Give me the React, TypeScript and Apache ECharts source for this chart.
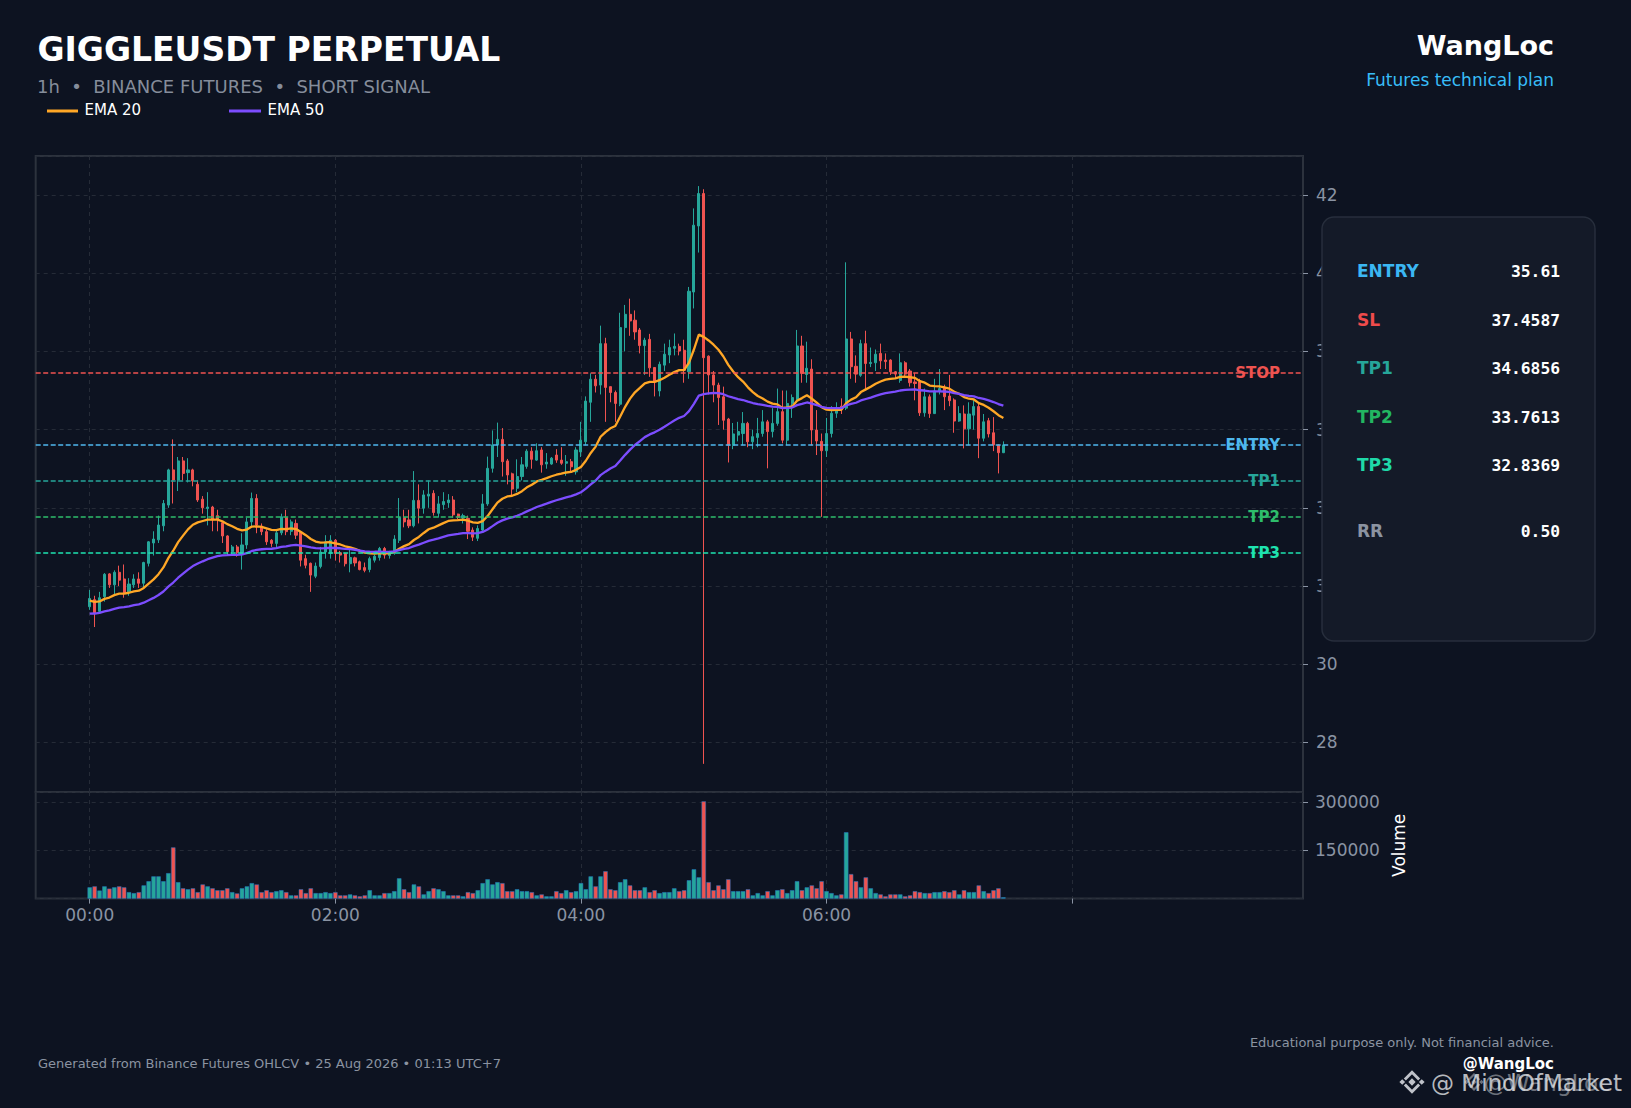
import React, { useEffect, useRef } from "react";
import * as echarts from "echarts";

// ---------- data ----------
const opens = [
  31.47, 31.65, 31.35, 31.73, 32.31, 32.03, 32.35, 32.18, 31.85, 32.03,
  32.18, 32.07, 32.58, 33.10, 33.18, 33.54, 34.07, 34.97, 34.71, 35.20,
  34.90, 34.97, 34.60, 34.22, 33.98, 34.02, 33.80, 33.62, 33.28, 32.88,
  33.00, 32.80, 33.05, 33.64, 34.24, 33.53, 33.39, 33.17, 33.09, 33.36,
  33.75, 33.40, 33.60, 33.38, 32.70, 32.58, 32.25, 32.50, 32.87, 32.83,
  33.17, 32.85, 32.83, 32.57, 32.72, 32.62, 32.47, 32.42, 32.66, 32.73,
  32.96, 32.78, 32.83, 33.17, 33.75, 33.69, 33.54, 34.19, 33.99, 34.30,
  34.37, 33.86, 34.08, 34.13, 34.20, 33.84, 33.74, 33.73, 33.43, 33.22,
  33.43, 34.10, 35.01, 35.61, 35.75, 35.20, 34.87, 34.50, 34.80, 35.06,
  35.45, 35.22, 35.48, 35.12, 35.12, 35.35, 35.22, 35.14, 35.18, 34.92,
  35.43, 35.69, 36.70, 37.29, 37.14, 38.20, 37.10, 36.95, 36.65, 38.61,
  38.95, 38.80, 38.55, 38.15, 38.31, 37.59, 36.99, 37.65, 37.91, 38.08,
  38.13, 38.03, 37.48, 39.52, 41.21, 42.04, 37.88, 37.40, 37.14, 36.84,
  36.27, 35.60, 35.86, 35.90, 36.16, 35.69, 35.80, 35.90, 36.20, 35.95,
  36.16, 36.46, 35.73, 36.67, 36.78, 38.14, 37.41, 37.55, 35.99, 35.70,
  35.46, 35.90, 36.42, 36.60, 36.55, 38.32, 37.62, 37.39, 38.20, 37.69,
  37.71, 37.95, 37.78, 37.78, 37.48, 37.26, 37.71, 37.50, 37.22, 37.22,
  36.43, 36.84, 36.41, 36.99, 37.07, 36.86, 36.76, 36.22, 36.40, 36.02,
  36.37, 36.59, 35.78, 36.23, 35.92, 35.61, 35.41,
];
const closes = [
  31.68, 31.30, 31.70, 32.30, 32.03, 32.35, 32.15, 31.81, 32.05, 32.18,
  32.07, 32.60, 33.13, 33.20, 33.56, 34.11, 34.97, 34.71, 35.20, 34.88,
  34.97, 34.69, 34.20, 34.00, 34.02, 33.69, 33.70, 33.28, 32.88, 33.00,
  32.85, 33.05, 33.64, 34.24, 33.56, 33.39, 33.13, 33.09, 33.36, 33.77,
  33.39, 33.64, 33.30, 32.66, 32.53, 32.28, 32.51, 32.87, 33.13, 33.17,
  32.83, 32.79, 32.57, 32.73, 32.59, 32.42, 32.40, 32.70, 32.76, 32.96,
  32.79, 32.83, 33.20, 33.75, 33.64, 33.54, 34.19, 33.99, 34.33, 34.35,
  33.88, 34.10, 34.16, 34.20, 33.82, 33.76, 33.80, 33.40, 33.25, 33.47,
  34.10, 35.01, 35.61, 35.75, 35.18, 34.84, 34.48, 34.80, 35.10, 35.45,
  35.24, 35.46, 35.10, 35.17, 35.27, 35.22, 35.14, 35.18, 35.05, 35.48,
  35.73, 36.73, 37.29, 37.12, 38.20, 37.08, 36.95, 36.67, 38.61, 38.95,
  38.78, 38.50, 38.15, 38.29, 37.58, 37.22, 37.67, 37.93, 38.10, 38.13,
  38.01, 37.52, 39.54, 41.23, 42.04, 37.84, 37.40, 37.14, 36.82, 36.24,
  35.60, 35.89, 35.95, 36.16, 35.69, 35.82, 35.90, 36.20, 35.95, 36.16,
  36.46, 35.73, 36.67, 36.82, 38.14, 37.44, 37.57, 35.99, 35.71, 35.46,
  35.90, 36.42, 36.54, 36.52, 38.32, 37.61, 37.42, 38.20, 37.69, 37.72,
  37.93, 37.76, 37.74, 37.48, 37.42, 37.71, 37.42, 37.20, 37.18, 36.43,
  36.84, 36.41, 36.99, 37.05, 36.84, 36.74, 36.22, 36.41, 36.02, 36.40,
  36.59, 35.78, 36.20, 35.89, 35.61, 35.41, 35.61,
];
const lows = [
  31.39, 30.95, 31.30, 31.60, 31.95, 31.77, 32.00, 31.70, 31.75, 31.95,
  31.95, 31.95, 32.50, 32.78, 33.10, 33.40, 34.00, 34.11, 34.43, 34.70,
  34.65, 34.55, 34.15, 33.85, 33.55, 33.40, 33.40, 33.10, 32.78, 32.80,
  32.75, 32.42, 32.95, 33.50, 33.35, 33.30, 33.05, 33.00, 32.95, 33.30,
  33.30, 33.30, 33.20, 32.50, 32.45, 31.85, 32.20, 32.45, 32.70, 32.70,
  32.65, 32.60, 32.50, 32.35, 32.50, 32.40, 32.35, 32.35, 32.60, 32.65,
  32.70, 32.70, 32.80, 33.10, 33.50, 33.48, 33.50, 33.60, 33.85, 34.00,
  33.80, 33.75, 33.95, 34.00, 33.75, 33.70, 33.60, 33.20, 33.15, 33.15,
  33.40, 34.05, 34.90, 35.30, 34.80, 34.60, 34.30, 34.40, 34.70, 35.00,
  35.00, 35.20, 34.90, 35.00, 35.10, 35.15, 35.10, 34.82, 34.90, 34.85,
  35.30, 35.60, 36.20, 36.95, 36.90, 36.20, 36.70, 36.20, 36.60, 38.00,
  38.40, 38.30, 37.95, 37.40, 37.35, 36.85, 36.85, 37.50, 37.70, 37.90,
  37.90, 37.20, 37.30, 39.10, 40.53, 27.45, 36.90, 36.70, 36.12, 36.00,
  35.16, 35.50, 35.70, 35.60, 35.55, 35.50, 35.55, 35.82, 35.01, 35.80,
  36.10, 35.65, 35.60, 36.30, 36.70, 37.20, 37.20, 35.60, 35.35, 33.77,
  35.30, 35.80, 36.30, 36.40, 36.50, 37.30, 37.20, 37.35, 37.00, 37.60,
  37.50, 37.55, 37.55, 37.40, 37.30, 37.20, 37.35, 37.10, 36.75, 36.35,
  36.33, 36.30, 36.40, 36.90, 36.50, 36.60, 35.92, 36.20, 35.52, 35.60,
  36.00, 35.27, 35.70, 35.80, 35.45, 34.88, 35.40,
];
const highs = [
  31.90, 31.75, 31.85, 32.33, 32.33, 32.40, 32.52, 32.55, 32.20, 32.30,
  32.35, 32.62, 33.15, 33.40, 33.80, 34.20, 35.00, 35.75, 35.30, 35.30,
  35.27, 35.00, 34.70, 34.30, 34.40, 34.05, 33.95, 33.65, 33.30, 33.05,
  33.05, 33.35, 33.75, 34.39, 34.35, 33.60, 33.45, 33.20, 33.45, 33.85,
  33.95, 33.70, 33.70, 33.40, 32.80, 32.60, 32.60, 33.00, 33.30, 33.30,
  33.20, 32.90, 32.85, 32.95, 32.75, 32.65, 32.60, 32.75, 32.80, 33.00,
  33.00, 32.90, 33.30, 34.25, 33.95, 33.95, 34.94, 34.60, 34.45, 34.70,
  34.45, 34.30, 34.40, 34.35, 34.30, 33.85, 33.85, 33.80, 33.50, 33.55,
  34.35, 35.31, 35.98, 36.18, 36.04, 35.25, 34.90, 35.24, 35.30, 35.50,
  35.55, 35.65, 35.55, 35.40, 35.30, 35.50, 35.55, 35.35, 35.25, 35.55,
  36.20, 36.85, 37.44, 37.40, 38.66, 38.35, 37.10, 37.00, 38.99, 39.19,
  39.35, 39.05, 38.60, 38.35, 38.45, 37.60, 37.74, 38.20, 38.30, 38.46,
  38.20, 38.30, 39.65, 41.66, 42.23, 42.15, 37.90, 37.50, 37.20, 37.10,
  36.30, 36.17, 36.20, 36.45, 36.20, 36.00, 36.30, 36.50, 36.25, 36.55,
  37.05, 37.00, 37.00, 36.90, 38.55, 38.40, 38.25, 37.80, 36.50, 35.90,
  36.30, 36.60, 36.70, 36.80, 40.28, 38.50, 37.90, 38.30, 38.53, 38.10,
  38.05, 38.20, 37.95, 37.80, 37.50, 37.95, 37.75, 37.55, 37.45, 37.30,
  37.05, 36.90, 37.30, 37.55, 37.15, 37.40, 36.80, 36.60, 36.62, 36.70,
  36.75, 36.70, 36.40, 36.30, 36.32, 35.62, 35.70,
];
const volumes = [
  35000, 38000, 25000, 38000, 31000, 35000, 38000, 35000, 20000, 17000,
  20000, 41000, 54000, 69000, 69000, 54000, 79000, 159000, 51000, 32000,
  29000, 32000, 20000, 44000, 38000, 32000, 26000, 26000, 32000, 20000,
  16000, 32000, 38000, 48000, 44000, 20000, 26000, 20000, 23000, 26000,
  20000, 10000, 10000, 29000, 17000, 32000, 17000, 17000, 20000, 17000,
  20000, 10000, 10000, 13000, 10000, 7000, 10000, 26000, 10000, 10000,
  17000, 17000, 23000, 63000, 29000, 20000, 44000, 38000, 13000, 23000,
  32000, 29000, 23000, 10000, 10000, 10000, 7000, 20000, 17000, 26000,
  48000, 60000, 44000, 51000, 48000, 23000, 23000, 29000, 23000, 23000,
  20000, 10000, 13000, 7000, 7000, 23000, 17000, 26000, 20000, 23000,
  48000, 29000, 69000, 38000, 69000, 85000, 29000, 26000, 51000, 60000,
  41000, 26000, 26000, 35000, 20000, 26000, 17000, 20000, 20000, 32000,
  23000, 26000, 57000, 91000, 66000, 302000, 51000, 26000, 41000, 29000,
  60000, 23000, 23000, 23000, 29000, 10000, 17000, 10000, 23000, 10000,
  26000, 29000, 17000, 26000, 54000, 26000, 35000, 41000, 32000, 54000,
  23000, 17000, 10000, 13000, 206000, 76000, 54000, 35000, 66000, 32000,
  17000, 13000, 7000, 13000, 13000, 13000, 7000, 10000, 23000, 20000,
  17000, 17000, 20000, 20000, 23000, 20000, 26000, 13000, 26000, 20000,
  20000, 41000, 23000, 17000, 26000, 32000, 4000,
];

const timeLabels = ["00:00", "02:00", "04:00", "06:00", ""];
const candlesPerLabel = 50;
const padBefore = 11;
const slotCount = 259;

const emaPeriods = [20, 50];
const emaSeeds = [31.62, 31.28];
const emaNames = ["EMA 20", "EMA 50"];
const emaColors = ["#ffa726", "#7c4dff"];

const levelNames = ["STOP", "ENTRY", "TP1", "TP2", "TP3"];
const levelValues = [37.4587, 35.61, 34.6856, 33.7613, 32.8369];
const levelColors = ["#ef5350", "#4fb8ee", "#26a69a", "#2ebd6b", "#1ee3b0"];

const panelLabels = ["ENTRY", "SL", "TP1", "TP2", "TP3", "RR"];
const panelValues = ["35.61", "37.4587", "34.6856", "33.7613", "32.8369", "0.50"];
const panelColors = ["#3bb7f3", "#ef4b4b", "#26a69a", "#22b661", "#1fd9a8", "#8b93a1"];

// ---------- styling ----------
const FONT = '"DejaVu Sans", "Noto Sans", sans-serif';
const MONO = '"DejaVu Sans Mono", monospace';
const BG = "#0d1321";
const UP = "#26a69a";
const DOWN = "#ef5350";
const GRIDC = "#252b37";
const FRAME = "#2c323d";
const AXT = "#8a93a3";
const VOL_EDGE = "#2479c7";

function ema(values: number[], period: number, seed: number) {
  const a = 2 / (period + 1);
  let prev = seed;
  return values.map((v) => (prev = a * v + (1 - a) * prev));
}

const slots = Array.from({ length: slotCount }, (_, k) => String(k));
const isTick = (index: number) => {
  const i = index - padBefore;
  return i >= 0 && i % candlesPerLabel === 0 && i / candlesPerLabel < timeLabels.length;
};
const labelFor = (index: number) => (isTick(index) ? timeLabels[(index - padBefore) / candlesPerLabel] : "");

export default function App() {
  const ref = useRef<HTMLDivElement>(null);

  useEffect(() => {
    document.body.style.margin = "0";
    document.body.style.background = BG;
    const chart = echarts.init(ref.current as HTMLDivElement, null, { renderer: "svg" });

    const toSlot = <T,>(fn: (i: number) => T) =>
      slots.map((_, k) => {
        const i = k - padBefore;
        return i >= 0 && i < opens.length ? fn(i) : "-";
      });

    const candleData = toSlot((i) => [opens[i], closes[i], lows[i], highs[i]]);
    const volData = toSlot((i) => ({
      value: volumes[i],
      itemStyle: { color: closes[i] >= opens[i] ? UP : DOWN },
    }));
    const emaData = emaPeriods.map((p, j) => {
      const e = ema(closes, p, emaSeeds[j]);
      return toSlot((i) => +e[i].toFixed(4));
    });

    const splitLine = {
      show: true,
      lineStyle: { color: GRIDC, type: [4, 4], width: 1 },
    };

    const option: any = {
      animation: false,
      backgroundColor: BG,
      grid: [
        { left: 35.7, right: 328, top: 156, height: 636, show: true, borderColor: FRAME, borderWidth: 2, backgroundColor: "transparent" },
        { left: 35.7, right: 328, top: 792, height: 106.6, show: true, borderColor: FRAME, borderWidth: 2, backgroundColor: "transparent" },
      ],
      xAxis: [
        {
          type: "category", gridIndex: 0, data: slots, boundaryGap: false,
          axisLine: { show: false }, axisTick: { show: false }, axisLabel: { show: false },
          splitLine: { ...splitLine, interval: (idx: number) => isTick(idx) },
        },
        {
          type: "category", gridIndex: 1, data: slots, boundaryGap: false,
          axisLine: { show: false },
          axisTick: { show: true, interval: (idx: number) => isTick(idx), length: 5, lineStyle: { color: AXT } },
          axisLabel: {
            show: true, interval: (idx: number) => isTick(idx),
            formatter: (_v: string, idx: number) => labelFor(idx),
            color: AXT, fontSize: 17, fontFamily: FONT, margin: 8,
          },
          splitLine: { ...splitLine, interval: (idx: number) => isTick(idx) },
        },
      ],
      yAxis: [
        {
          type: "value", gridIndex: 0, position: "right", min: 26.73, max: 43.0, splitNumber: 8,
          axisLine: { show: false },
          axisTick: { show: true, length: 5, lineStyle: { color: AXT } },
          axisLabel: { color: AXT, fontSize: 17, fontFamily: FONT, margin: 13, showMinLabel: false, showMaxLabel: false },
          splitLine,
        },
        {
          type: "value", gridIndex: 1, position: "right", min: 0, max: 331000, interval: 150000,
          name: "Volume", nameLocation: "middle", nameGap: 75,
          nameTextStyle: { color: "#ffffff", fontSize: 17, fontFamily: FONT },
          axisLine: { show: false },
          axisTick: { show: true, length: 5, lineStyle: { color: AXT } },
          axisLabel: {
            color: AXT, fontSize: 17, fontFamily: FONT, margin: 12,
            showMinLabel: false, showMaxLabel: false,
            formatter: (v: number) => String(v),
          },
          splitLine,
        },
      ],
      series: [
        {
          name: "GIGGLEUSDT",
          type: "candlestick",
          xAxisIndex: 0, yAxisIndex: 0,
          data: candleData,
          barWidth: 2.6,
          itemStyle: { color: UP, color0: DOWN, borderColor: UP, borderColor0: DOWN, borderWidth: 1 },
          markLine: {
            silent: true,
            symbol: ["none", "none"],
            label: { show: false },
            data: levelValues.map((v, j) => ({
              yAxis: v,
              lineStyle: { color: levelColors[j], type: [5, 2.5], width: 1.5 },
            })),
          },
        },
        ...emaData.map((d, j) => ({
          name: emaNames[j],
          type: "line",
          xAxisIndex: 0, yAxisIndex: 0,
          data: d,
          showSymbol: false,
          symbol: "none",
          lineStyle: { color: emaColors[j], width: 2.3 },
          z: 3,
        })),
        {
          name: "Volume",
          type: "bar",
          xAxisIndex: 1, yAxisIndex: 1,
          data: volData,
          barWidth: 4.4,
          itemStyle: { borderColor: VOL_EDGE, borderWidth: 0.5 },
        },
      ],
    };

    chart.setOption(option);

    const plotRight = chart.getWidth() - 328;
    const levelTexts = levelValues.map((v, j) => ({
      type: "text",
      x: plotRight - 23,
      y: chart.convertToPixel({ yAxisIndex: 0 } as any, v) as number,
      z: 50,
      style: {
        text: levelNames[j], fill: levelColors[j], fontSize: 15, fontWeight: "bold",
        fontFamily: FONT, align: "right", verticalAlign: "middle",
      },
    }));

    const txt = (text: string, x: number, y: number, size: number, fill: string, extra: any = {}) => ({
      type: "text", x, y, z: 120,
      style: { text, fill, fontSize: size, fontFamily: FONT, align: "left", verticalAlign: "middle", ...extra },
    });

    const rowY = [271, 320, 368, 417, 465, 531];
    const panelTexts: any[] = [];
    panelLabels.forEach((lab, j) => {
      panelTexts.push(txt(lab, 1357, rowY[j], 17, panelColors[j], { fontWeight: "bold" }));
      panelTexts.push(txt(panelValues[j], 1560, rowY[j], 16.3, "#ffffff", { fontWeight: "bold", fontFamily: MONO, align: "right" }));
    });

    const logo = (cx: number, cy: number, s: number, opacity: number) => {
      const dia = (x: number, y: number, r: number) => ({
        type: "polygon", z: 130,
        shape: { points: [[x, y - r], [x + r, y], [x, y + r], [x - r, y]] },
        style: { fill: "#dfe2e6", opacity },
      });
      const chev = (dir: number) => ({
        type: "polyline", z: 130,
        shape: { points: [[cx - s * 0.55, cy - dir * s * 0.2], [cx, cy - dir * s * 0.75], [cx + s * 0.55, cy - dir * s * 0.2]] },
        style: { stroke: "#dfe2e6", lineWidth: s * 0.22, fill: "none", opacity },
      });
      return [dia(cx, cy, s * 0.28), dia(cx - s * 0.75, cy, s * 0.22), dia(cx + s * 0.75, cy, s * 0.22), chev(1), chev(-1)];
    };

    const graphics: any[] = [
      txt("GIGGLEUSDT PERPETUAL", 37.5, 49.2, 33, "#ffffff", { fontWeight: "bold" }),
      txt("1h  \u2022  BINANCE FUTURES  \u2022  SHORT SIGNAL", 37, 86.3, 18, "#858d9b"),
      { type: "line", z: 120, shape: { x1: 47, y1: 111, x2: 78, y2: 111 }, style: { stroke: emaColors[0], lineWidth: 3 } },
      txt(emaNames[0], 84.5, 109.7, 15, "#ffffff"),
      { type: "line", z: 120, shape: { x1: 229, y1: 111, x2: 261, y2: 111 }, style: { stroke: emaColors[1], lineWidth: 3 } },
      txt(emaNames[1], 267.5, 109.7, 15, "#ffffff"),
      txt("WangLoc", 1554, 45.7, 27, "#ffffff", { fontWeight: "bold", align: "right" }),
      txt("Futures technical plan", 1554, 80, 17, "#38bdf8", { align: "right" }),
      {
        type: "rect", z: 110,
        shape: { x: 1322, y: 217, width: 273, height: 424, r: 12 },
        style: { fill: "#141a28", stroke: "#272e3c", lineWidth: 1.5 },
      },
      ...panelTexts,
      ...levelTexts,
      txt("Generated from Binance Futures OHLCV \u2022 25 Aug 2026 \u2022 01:13 UTC+7", 38, 1063.5, 13, "#8b93a1"),
      txt("Educational purpose only. Not financial advice.", 1554, 1042.5, 13, "#8b93a1", { align: "right" }),
      txt("@WangLoc", 1554, 1063.5, 15, "#ffffff", { fontWeight: "bold", align: "right" }),
      ...logo(1412, 1082, 13, 0.85),
      txt("@ MindOfMarket", 1431, 1083, 23, "#e6e8eb", { opacity: 0.8 }),
      ...logo(1474, 1082, 10, 0.45),
      txt("@WangLoc", 1484, 1083, 23, "#e6e8eb", { opacity: 0.45 }),
    ];

    chart.setOption({ graphic: graphics });

    return () => chart.dispose();
  }, []);

  return (
    <div
      ref={ref}
      style={{ position: "absolute", left: 0, top: 0, width: 1631, height: 1108, background: BG }}
    />
  );
}
